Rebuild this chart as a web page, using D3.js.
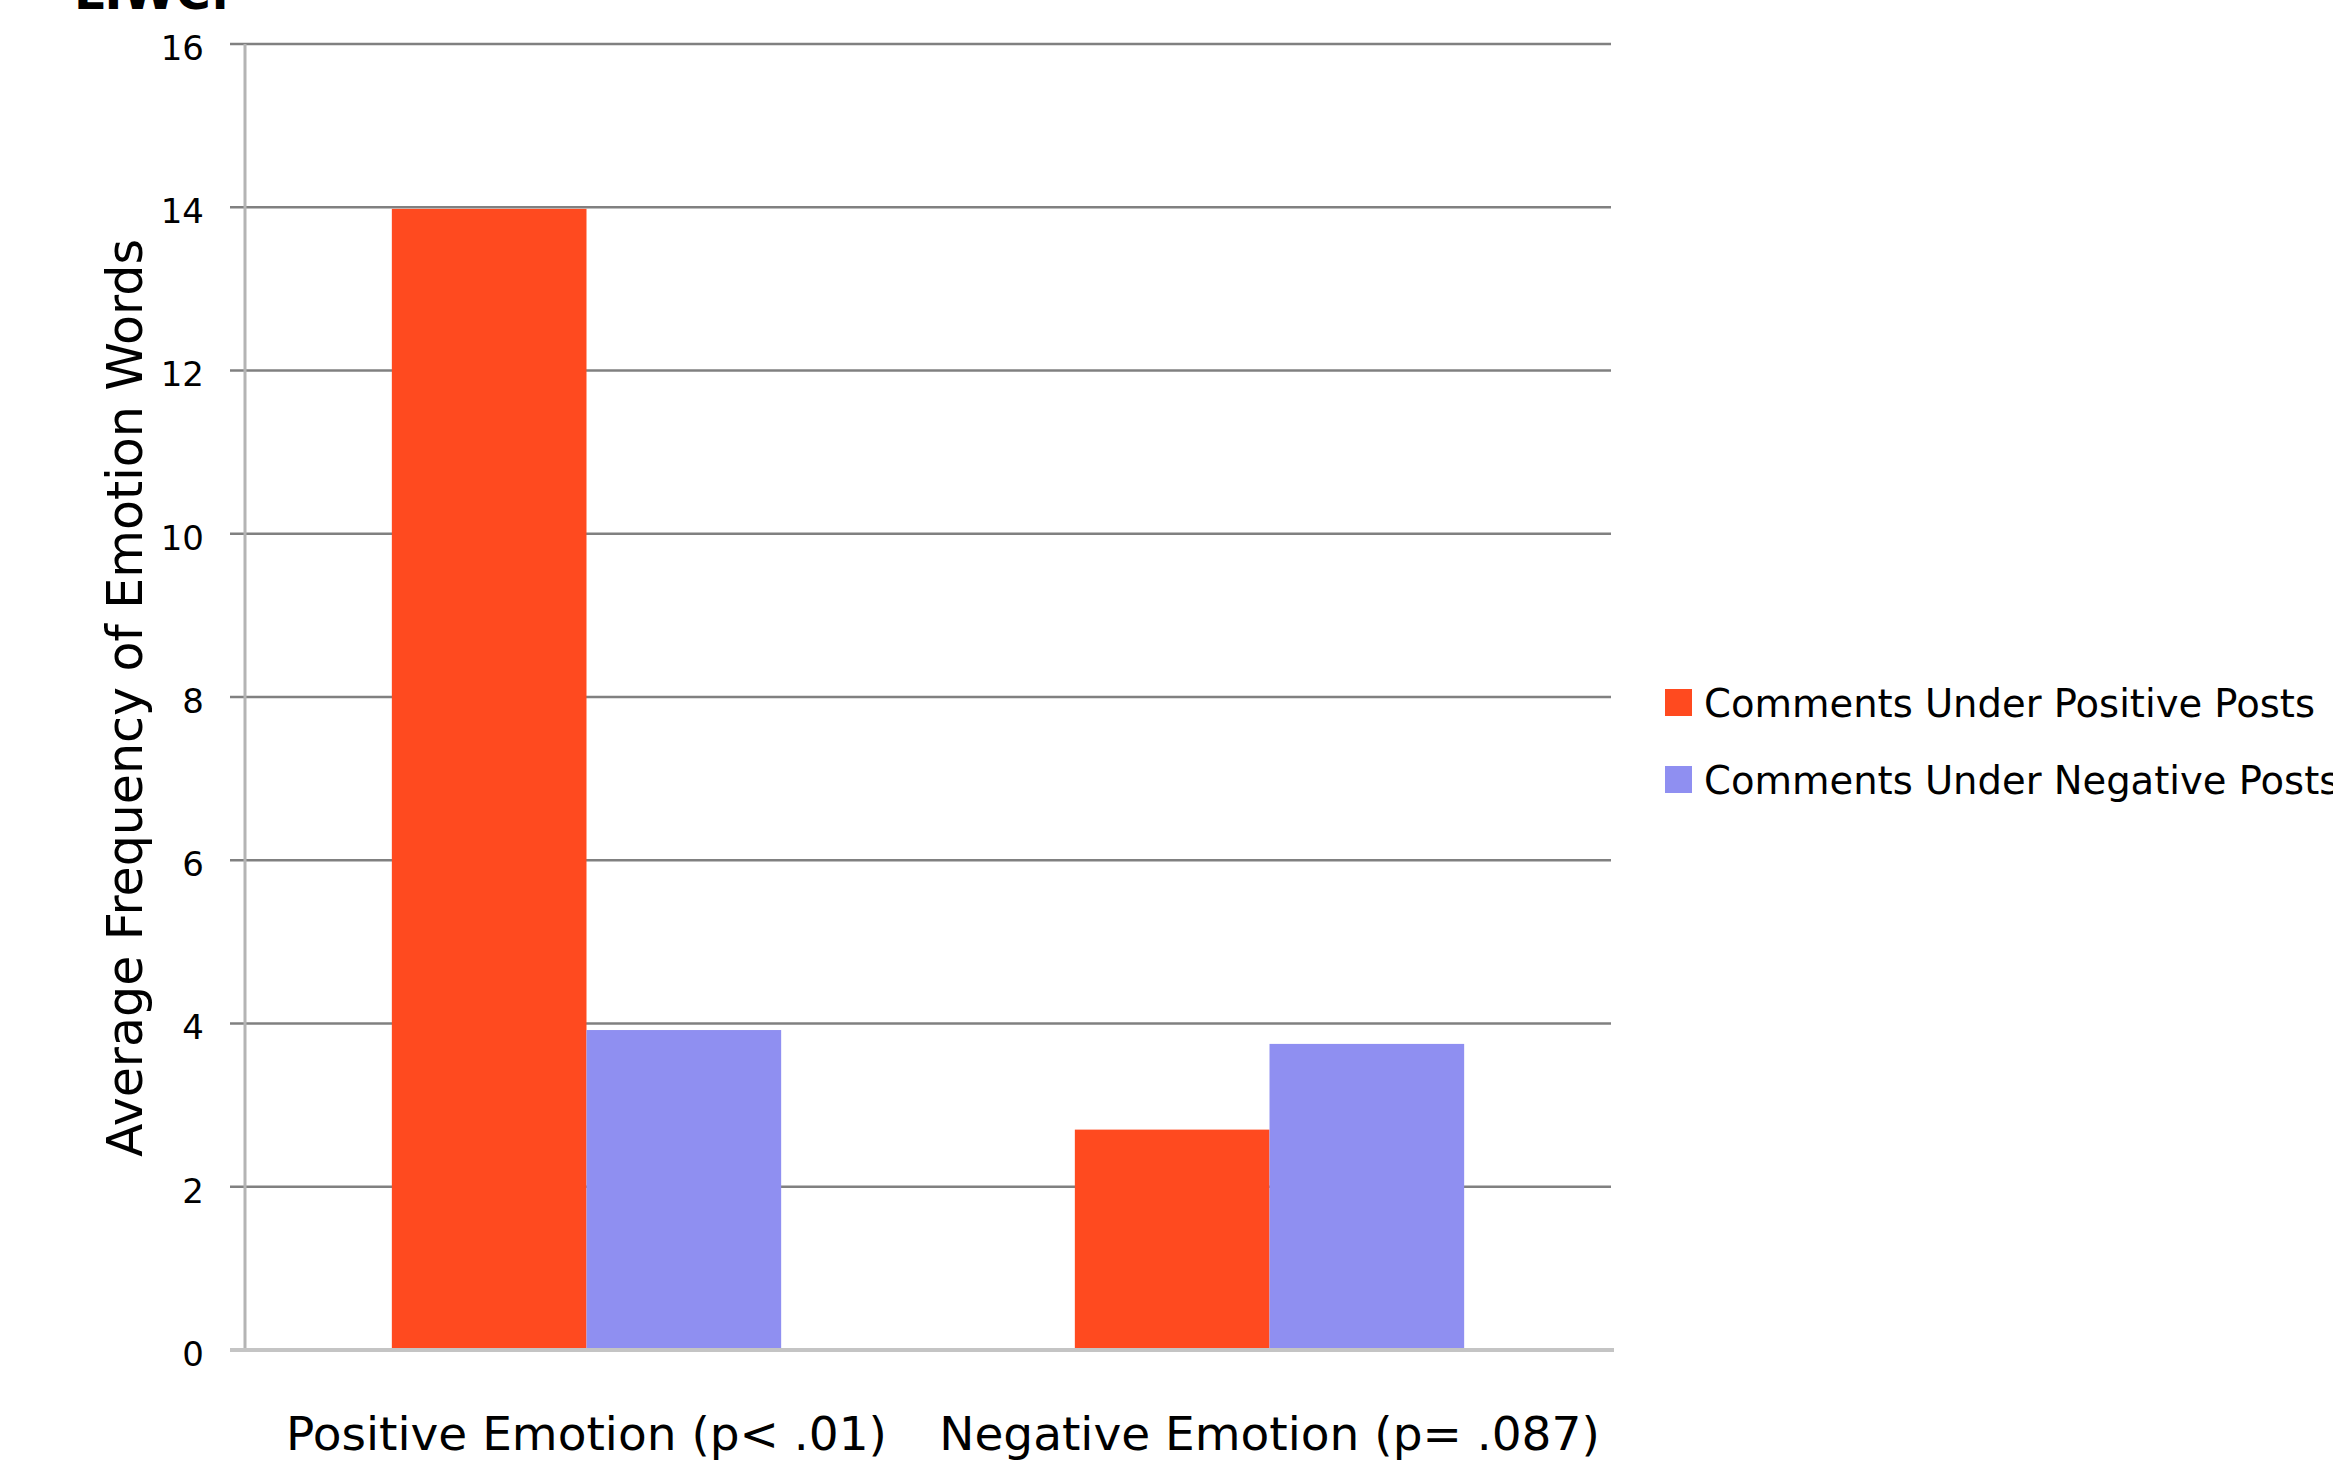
<!DOCTYPE html>
<html>
<head>
<meta charset="utf-8">
<script src="https://cdn.jsdelivr.net/npm/d3@7"></script>
<style>
	body { margin: 0; background: #fff; overflow: hidden; }
	svg { display: block; font-family: "DejaVu Sans", "Open Sans", sans-serif; }
</style>
</head>
<body>
<svg id="svg"></svg>
<script>
const categories = ['Positive Emotion (p< .01)', 'Negative Emotion (p= .087)'];
const seriesNames = ['Comments Under Positive Posts', 'Comments Under Negative Posts'];
const positivePosts = [13.98, 2.70];
const negativePosts = [3.92, 3.75];
const yTicks = [0, 2, 4, 6, 8, 10, 12, 14, 16];
const colors = ['#ff4a1f', '#8f8ff1'];

const svgWidth = 2333;
const svgHeight = 1468;
const plotLeft = 245;
const plotRight = 1611;
const plotTop = 44;
const plotBottom = 1350;

const svg = d3.select('#svg')
	.attr('width', svgWidth)
	.attr('height', svgHeight);

const x = d3.scaleBand()
	.domain(categories)
	.range([plotLeft, plotRight])
	.paddingInner(0.43)
	.paddingOuter(0.215);

const xSub = d3.scaleBand()
	.domain(seriesNames)
	.range([0, x.bandwidth()]);

const y = d3.scaleLinear()
	.domain([0, 16])
	.range([plotBottom, plotTop]);

// heading above the chart, mostly cut off by the top edge
svg.append('text')
	.attr('x', 74)
	.attr('y', 9)
	.attr('font-size', 48)
	.attr('font-weight', 'bold')
	.text('LIWC:');

// horizontal gridlines (with small tick stubs left of the axis)
svg.append('g')
	.selectAll('line')
	.data(yTicks.filter(t => t > 0))
	.enter()
	.append('line')
		.attr('x1', plotLeft - 15)
		.attr('x2', plotRight)
		.attr('y1', d => y(d))
		.attr('y2', d => y(d))
		.attr('stroke', '#808080')
		.attr('stroke-width', 2.5);

// y axis labels
const yAxis = svg.append('g')
	.attr('transform', `translate(${plotLeft - 15}, 0)`)
	.call(d3.axisLeft(y).tickValues(yTicks).tickSize(0).tickPadding(26));
yAxis.select('.domain').remove();
yAxis.selectAll('text')
	.attr('font-size', 34)
	.attr('font-family', '"DejaVu Sans", sans-serif')
	.attr('fill', '#000')
	.attr('dy', '0.45em');

// bars
const groups = svg.selectAll('g.cat')
		.data(categories)
		.enter()
	.append('g')
		.attr('class', 'cat')
		.attr('transform', c => `translate(${x(c)}, 0)`);

groups.each(function(c, i) {
	const vals = [positivePosts[i], negativePosts[i]];
	d3.select(this).selectAll('rect')
		.data(vals)
		.enter()
		.append('rect')
			.attr('x', (v, j) => xSub(seriesNames[j]))
			.attr('y', v => y(v))
			.attr('width', xSub.bandwidth())
			.attr('height', v => y(0) - y(v))
			.attr('fill', (v, j) => colors[j]);
});

// y axis line
svg.append('line')
	.attr('x1', plotLeft).attr('x2', plotLeft)
	.attr('y1', y(16)).attr('y2', y(0))
	.attr('stroke', '#b4b4b4')
	.attr('stroke-width', 3);

// zero baseline
svg.append('line')
	.attr('x1', plotLeft - 15).attr('x2', plotRight + 3)
	.attr('y1', y(0)).attr('y2', y(0))
	.attr('stroke', '#c4c4c4')
	.attr('stroke-width', 4);

// category labels
svg.append('g')
	.selectAll('text')
	.data(categories)
	.enter()
	.append('text')
		.attr('x', c => x(c) + x.bandwidth() / 2)
		.attr('y', 1450)
		.attr('text-anchor', 'middle')
		.attr('font-size', 47)
		.text(c => c);

// y axis title
svg.append('text')
	.attr('transform', 'translate(142, 698) rotate(-90)')
	.attr('text-anchor', 'middle')
	.attr('font-size', 49)
	.text('Average Frequency of Emotion Words');

// legend
const legend = svg.selectAll('g.legend')
		.data(seriesNames)
		.enter()
	.append('g')
		.attr('class', 'legend')
		.attr('transform', (d, i) => `translate(1665, ${689 + i * 77})`);

legend.append('rect')
	.attr('width', 27)
	.attr('height', 27)
	.attr('fill', (d, i) => colors[i]);

legend.append('text')
	.attr('x', 39)
	.attr('y', 28)
	.attr('font-size', 38.5)
	.text(d => d);
</script>
</body>
</html>
